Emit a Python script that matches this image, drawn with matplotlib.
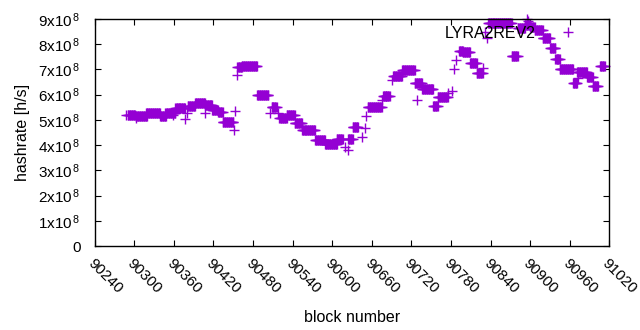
import numpy as np
import matplotlib
matplotlib.use('Agg')
import matplotlib.pyplot as plt
from matplotlib.ticker import FuncFormatter

plt.rcParams['font.family'] = 'Liberation Sans'
plt.rcParams['mathtext.fontset'] = 'custom'
plt.rcParams['mathtext.rm'] = 'Liberation Sans'

# plateaus: blocks with the same hashrate estimate (start block, end block, rate in 1e8 h/s)
run_start = [90290, 90302, 90318, 90339, 90347, 90362, 90381, 90392, 90407, 90418,
             90427, 90434, 90456, 90463, 90486, 90508, 90520, 90531, 90543, 90554,
             90574, 90589, 90607, 90624, 90631, 90654, 90677, 90692, 90706, 90725,
             90736, 90753, 90760, 90792, 90798, 90809, 90819, 90836, 90872, 90881,
             90892, 90900, 90907, 90919, 90930, 90938, 90945, 90965, 90971, 90986,
             90995, 91006]
run_end = [90301, 90319, 90339, 90348, 90362, 90377, 90392, 90407, 90418, 90427,
           90434, 90450, 90463, 90486, 90503, 90516, 90531, 90543, 90554, 90574,
           90589, 90607, 90616, 90631, 90639, 90675, 90687, 90706, 90725, 90736,
           90753, 90760, 90775, 90798, 90809, 90819, 90828, 90872, 90881, 90892,
           90900, 90907, 90919, 90930, 90938, 90945, 90965, 90971, 90986, 90995,
           91003, 91013]
run_rate = [5.18, 5.15, 5.27, 5.15, 5.28, 5.49, 5.56, 5.67, 5.58, 5.40,
            5.32, 4.92, 7.08, 7.14, 5.97, 5.50, 5.07, 5.20, 4.89, 4.58,
            4.19, 4.03, 4.25, 4.25, 4.72, 5.52, 5.95, 6.75, 6.98, 6.46,
            6.22, 5.54, 5.91, 7.74, 7.68, 7.26, 6.84, 8.85, 7.53, 8.65,
            8.75, 8.70, 8.58, 8.26, 7.85, 7.40, 7.00, 6.46, 6.90, 6.70,
            6.35, 7.13]

# isolated blocks
pt_block = [90287, 90303, 90358, 90377, 90380, 90407, 90451, 90452, 90455, 90505,
            90518, 90619, 90624, 90645, 90649, 90651, 90675, 90681, 90690, 90728,
            90775, 90781, 90784, 90787, 90828, 90831, 90834, 90895, 90897, 90972]
pt_rate = [5.18, 5.08, 5.20, 5.04, 5.29, 5.29, 4.60, 5.36, 6.76, 5.28,
           5.28, 3.93, 3.81, 4.33, 4.68, 5.16, 5.79, 5.93, 6.59, 5.79,
           6.07, 6.15, 7.02, 7.38, 7.06, 8.50, 8.25, 8.98, 8.92, 6.67]

blocks = list(pt_block)
rates = list(pt_rate)
for s, e, r in zip(run_start, run_end, run_rate):
    for b in range(s, e + 1):
        blocks.append(b)
        rates.append(r)
blocks = np.array(blocks)
rates = np.array(rates) * 1e8

fig = plt.figure(figsize=(6.4, 3.3), dpi=100)
ax = fig.add_axes([0.148, 0.2545, 0.804, 0.688])

ax.plot(blocks, rates, linestyle='none', marker='+', markersize=7, markeredgewidth=1,
        color='#9400d3', clip_on=False, label='LYRA2REV2')

ax.set_xlim(90240, 91020)
ax.set_ylim(0, 9e8)
ax.set_xticks(np.arange(90240, 91021, 60))
ax.set_yticks(np.arange(0, 9.01e8, 1e8))


def yfmt(v, pos):
    n = int(round(v / 1e8))
    if n == 0:
        return '0'
    return r'$\mathregular{%dx10^{\,8}}$' % n


ax.yaxis.set_major_formatter(FuncFormatter(yfmt))
ax.tick_params(direction='in', length=4.5, width=0.8, top=True, right=True,
               labelsize=11, colors='black')
ax.tick_params(axis='y', pad=10)
ax.tick_params(axis='x', pad=7)
for lbl in ax.get_xticklabels():
    lbl.set_rotation(-45)
    lbl.set_ha('left')
    lbl.set_va('top')
    lbl.set_rotation_mode('anchor')

for sp in ax.spines.values():
    sp.set_linewidth(1)

ax.set_xlabel('block number', fontsize=11.5, labelpad=10)
ax.set_ylabel('hashrate [h/s]', fontsize=11.5, labelpad=6)

ax.legend(loc='upper right', markerfirst=False, frameon=False, fontsize=11.5,
          handlelength=1.5, borderaxespad=0, handletextpad=1.3,
          bbox_to_anchor=(0.956, 0.998))

fig.savefig('out.png', dpi=100)
